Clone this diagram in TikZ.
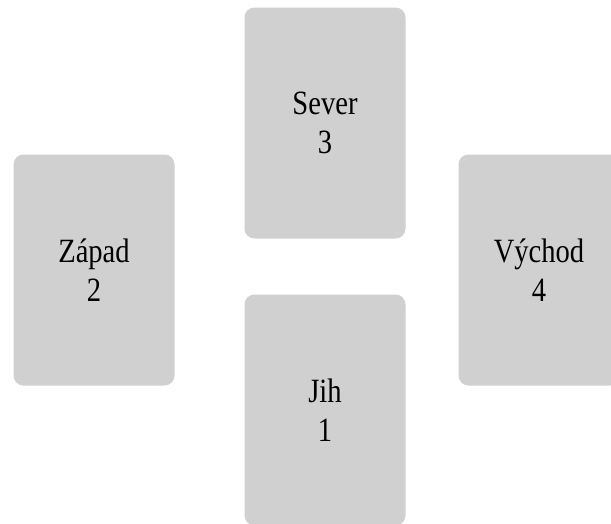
\documentclass[tikz,border=0pt]{standalone}
\usepackage{fontspec}
\setmainfont{Liberation Serif}[FakeStretch=0.84]
\definecolor{cardgrey}{HTML}{D0D0D0}
\tikzset{
  card/.style={fill=cardgrey, draw=none, rounded corners=10pt,
    minimum width=161pt, minimum height=231pt, align=center,
    inner sep=0pt, font=\fontsize{34pt}{39.5pt}\selectfont}
}
\begin{document}
\begin{tikzpicture}[x=1pt,y=1pt]
  \useasboundingbox (0,0) rectangle (611,-523);
  \clip (0,0) rectangle (611,-523);
  \fill[white] (0,0) rectangle (611,-523);
  \node[card] (sever) at (325,-123) {Sever\\3};
  \node[card] (zapad) at (94,-270) {Západ\\2};
  \node[card] (vychod) at (539,-270) {Východ\\4};
  \node[card] (jih) at (325,-410) {Jih\\1};
\end{tikzpicture}
\end{document}
